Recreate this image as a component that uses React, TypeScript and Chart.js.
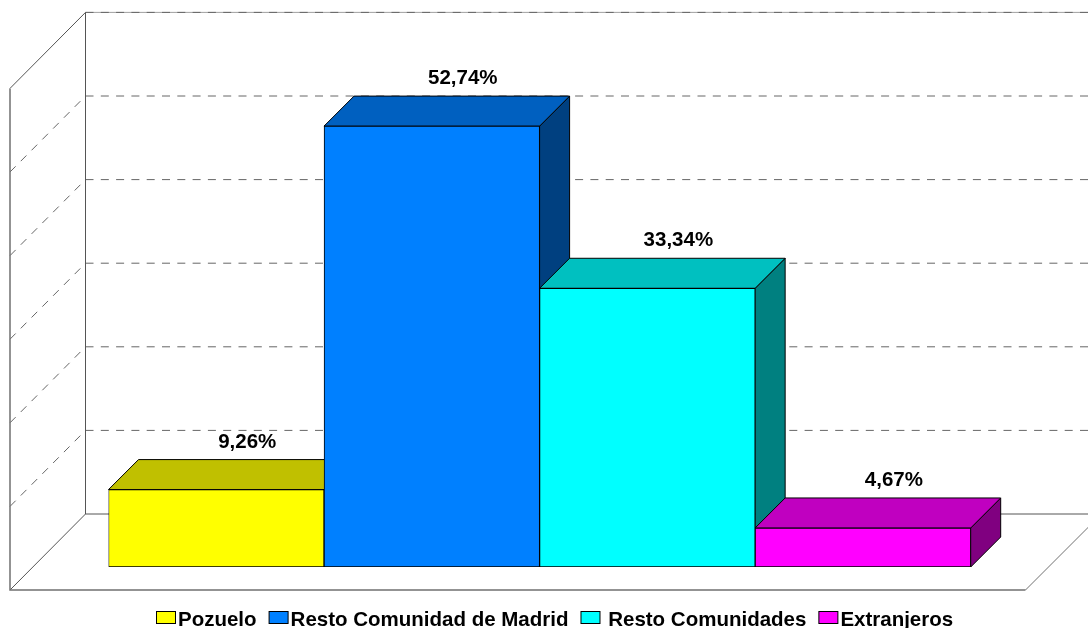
import React, { useEffect, useRef } from "react";
import { Chart, registerables } from "chart.js";

Chart.register(...registerables);

const categories = ["Pozuelo", "Resto Comunidad de Madrid", "Resto Comunidades", "Extranjeros"];
const legendLabels = ["Pozuelo", "Resto Comunidad de Madrid", " Resto Comunidades", "Extranjeros"];
const values = [9.26, 52.74, 33.34, 4.67];
const valueLabels = ["9,26%", "52,74%", "33,34%", "4,67%"];
const frontColors = ["#FFFF00", "#0080FF", "#00FFFF", "#FF00FF"];
const topColors = ["#C0C000", "#0060C0", "#00C0C0", "#C000C0"];
const sideColors = ["#808000", "#004080", "#008080", "#800080"];
const FONT = '"Liberation Sans", Arial, sans-serif';

const DEPTH = 30;
const WALL_X = 85.5;
const LEFT_X = 10;
const WALL_UP = 53;
const FLOOR_DOWN = 23;
const WALL_DEPTH = 76;
const FLOOR_RIGHT = 1025.5;

const scenePlugin = {
  id: "scene3d",
  beforeDatasetsDraw(chart: any) {
    const { ctx, width } = chart;
    const y = chart.scales.y;
    const meta = chart.getDatasetMeta(0);
    const wallY = (v: number) => y.getPixelForValue(v) - WALL_UP;
    const floorBack = wallY(0);
    const top = wallY(y.max);
    const floorFront = y.getPixelForValue(0) + FLOOR_DOWN;
    ctx.save();
    ctx.fillStyle = "#FFFFFF";
    ctx.fillRect(0, 0, width, chart.height);

    // light line under the top dashed gridline
    ctx.lineWidth = 1;
    ctx.strokeStyle = "#A0A0A0";
    ctx.beginPath();
    ctx.moveTo(WALL_X, top);
    ctx.lineTo(width, top);
    ctx.stroke();

    // gridlines on both walls
    ctx.strokeStyle = "#666666";
    ctx.setLineDash([8, 7.3]);
    for (const t of y.ticks) {
      if (t.value <= y.min) continue;
      const wy = wallY(t.value);
      ctx.beginPath();
      ctx.moveTo(WALL_X, wy);
      ctx.lineTo(width, wy);
      ctx.stroke();
      if (t.value < y.max) {
        ctx.beginPath();
        ctx.moveTo(LEFT_X, wy + WALL_DEPTH);
        ctx.lineTo(WALL_X, wy);
        ctx.stroke();
      }
    }
    ctx.setLineDash([]);

    // wall and floor outlines
    ctx.strokeStyle = "#555555";
    ctx.lineWidth = 1;
    ctx.beginPath();
    ctx.moveTo(LEFT_X, top + WALL_DEPTH);
    ctx.lineTo(WALL_X, top);
    ctx.lineTo(WALL_X, floorBack);
    ctx.lineTo(LEFT_X, floorFront);
    ctx.moveTo(WALL_X, floorBack);
    ctx.lineTo(width, floorBack);
    ctx.stroke();
    ctx.strokeStyle = "#707070";
    ctx.lineWidth = 1.5;
    ctx.beginPath();
    ctx.moveTo(LEFT_X, top + WALL_DEPTH);
    ctx.lineTo(LEFT_X, floorFront);
    ctx.lineTo(FLOOR_RIGHT, floorFront);
    ctx.stroke();
    ctx.lineWidth = 1;
    ctx.beginPath();
    ctx.moveTo(FLOOR_RIGHT, floorFront);
    ctx.lineTo(FLOOR_RIGHT + WALL_DEPTH, floorBack);
    ctx.stroke();

    // top and side faces of the bars
    ctx.strokeStyle = "#000000";
    ctx.lineWidth = 1;
    meta.data.forEach((bar: any, i: number) => {
      const l = bar.x - bar.width / 2;
      const r = bar.x + bar.width / 2;
      const t = bar.y;
      const b = bar.base;
      ctx.fillStyle = sideColors[i];
      ctx.beginPath();
      ctx.moveTo(r, t);
      ctx.lineTo(r + DEPTH, t - DEPTH);
      ctx.lineTo(r + DEPTH, b - DEPTH);
      ctx.lineTo(r, b);
      ctx.closePath();
      ctx.fill();
      ctx.stroke();
      ctx.fillStyle = topColors[i];
      ctx.beginPath();
      ctx.moveTo(l, t);
      ctx.lineTo(l + DEPTH, t - DEPTH);
      ctx.lineTo(r + DEPTH, t - DEPTH);
      ctx.lineTo(r, t);
      ctx.closePath();
      ctx.fill();
      ctx.stroke();
    });
    ctx.restore();
  },
  afterDatasetsDraw(chart: any) {
    const { ctx } = chart;
    const meta = chart.getDatasetMeta(0);
    ctx.save();
    ctx.fillStyle = "#000000";
    ctx.font = `bold 20.5px ${FONT}`;
    ctx.textAlign = "center";
    ctx.textBaseline = "alphabetic";
    meta.data.forEach((bar: any, i: number) => {
      ctx.fillText(valueLabels[i], bar.x + DEPTH + 1, bar.y - DEPTH - 12);
    });

    // legend
    let x = 156;
    ctx.textAlign = "left";
    legendLabels.forEach((label, i) => {
      ctx.fillStyle = frontColors[i];
      ctx.strokeStyle = "#000000";
      ctx.lineWidth = 1;
      ctx.fillRect(x + 0.5, 611.5, 19, 12);
      ctx.strokeRect(x + 0.5, 611.5, 19, 12);
      x += 22;
      ctx.fillStyle = "#000000";
      ctx.fillText(label, x, 626);
      x += ctx.measureText(label).width + 12;
    });
    ctx.restore();
  },
};

export default function App() {
  const ref = useRef<HTMLCanvasElement>(null);
  useEffect(() => {
    const chart = new Chart(ref.current as HTMLCanvasElement, {
      type: "bar",
      data: {
        labels: categories,
        datasets: [
          {
            data: values,
            backgroundColor: frontColors,
            borderColor: "#000000",
            borderWidth: 1,
            borderSkipped: false,
            barPercentage: 1,
            categoryPercentage: 1,
          },
        ],
      },
      options: {
        responsive: false,
        animation: false,
        devicePixelRatio: 1,
        layout: { padding: { left: 108.5, right: 117.3, top: 65.4, bottom: 61 } },
        plugins: { legend: { display: false }, tooltip: { enabled: false }, title: { display: false } },
        scales: {
          x: { display: false, grid: { display: false } },
          y: { display: false, min: 0, max: 60, ticks: { stepSize: 10 }, grid: { display: false } },
        },
      },
      plugins: [scenePlugin],
    } as any);
    return () => chart.destroy();
  }, []);
  return (
    <div style={{ position: "fixed", left: 0, top: 0, width: 1088, height: 628, background: "#fff" }}>
      <canvas ref={ref} width={1088} height={628} style={{ display: "block" }} />
    </div>
  );
}
